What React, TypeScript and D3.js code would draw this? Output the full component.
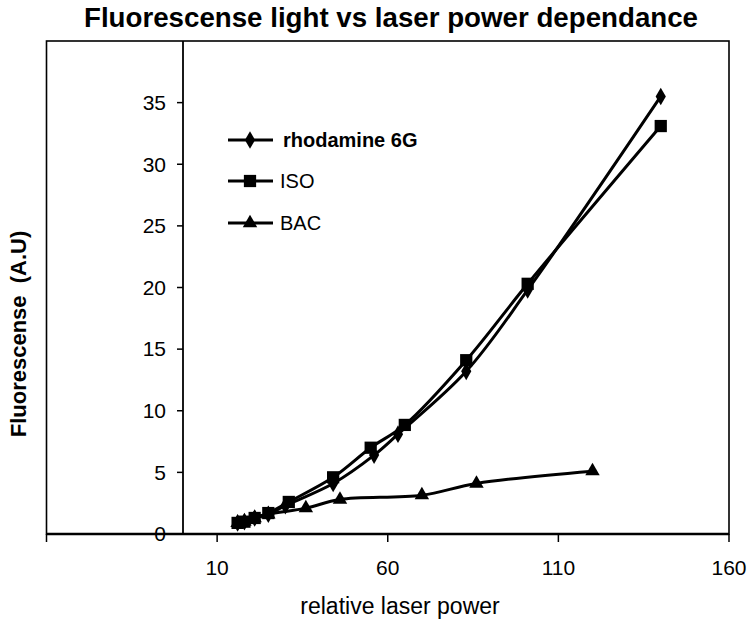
import React from "react";
import * as d3 from "d3";

const rhodX = [16, 18, 21, 25, 30, 44, 56, 63, 83, 101, 140];
const rhodY = [0.9, 1.0, 1.3, 1.6, 2.3, 4.1, 6.4, 8.1, 13.2, 19.8, 35.5];
const isoX = [16, 18, 21, 25, 31, 44, 55, 65, 83, 101, 140];
const isoY = [0.9, 1.0, 1.3, 1.7, 2.6, 4.6, 7.0, 8.85, 14.1, 20.3, 33.1];
const bacX = [16, 18, 21, 25, 36, 46, 70, 86, 120];
const bacY = [0.9, 1.0, 1.3, 1.6, 2.1, 2.8, 3.15, 4.1, 5.1];

const xTickValues = [-40, 10, 60, 110, 160];
const xTickLabels = ["", "10", "60", "110", "160"];
const yTickValues = [0, 5, 10, 15, 20, 25, 30, 35];

const titleText = "Fluorescense light vs laser power dependance";
const xTitle = "relative laser power";
const yTitle = "Fluorescense  (A.U)";

const seriesNames = ["rhodamine 6G", "ISO", "BAC"];

export default function App() {
  const x = d3.scaleLinear().domain([-40, 160]).range([46.5, 729]);
  const y = d3.scaleLinear().domain([0, 40]).range([534, 41]);

  const series = [
    { name: seriesNames[0], xs: rhodX, ys: rhodY, sym: d3.symbolDiamond, size: 90, bold: true },
    { name: seriesNames[1], xs: isoX, ys: isoY, sym: d3.symbolSquare, size: 150, bold: false },
    { name: seriesNames[2], xs: bacX, ys: bacY, sym: d3.symbolTriangle, size: 90, bold: false },
  ];

  const line = d3
    .line<[number, number]>()
    .x((d) => x(d[0]))
    .y((d) => y(d[1]))
    .curve(d3.curveCatmullRom.alpha(0.5));

  const font = "Liberation Sans, Arial, sans-serif";
  const legendY = [140, 181, 223];

  return (
    <svg
      width={750}
      height={624}
      style={{ position: "absolute", left: 0, top: 0, background: "#fff" }}
      fontFamily={font}
    >
      <rect x={0} y={0} width={750} height={624} fill="#fff" />
      {/* plot area border */}
      <rect x={x(-40)} y={y(40)} width={x(160) - x(-40)} height={y(0) - y(40)} fill="none" stroke="#000" strokeWidth={1.6} />
      {/* y axis at x=0 */}
      <line x1={x(0)} x2={x(0)} y1={y(40)} y2={y(0)} stroke="#000" strokeWidth={1.8} />
      {yTickValues.map((v) => (
        <g key={"yt" + v}>
          <line x1={x(0) - 6} x2={x(0)} y1={y(v)} y2={y(v)} stroke="#000" strokeWidth={1.5} />
          <text x={166} y={y(v)} dy="0.35em" textAnchor="end" fontSize={21} fill="#000">
            {v}
          </text>
        </g>
      ))}
      {/* x axis */}
      <line x1={x(-40)} x2={x(160)} y1={y(0)} y2={y(0)} stroke="#000" strokeWidth={2.5} />
      {xTickValues.map((v, i) => (
        <g key={"xt" + v}>
          <line x1={x(v)} x2={x(v)} y1={y(0)} y2={y(0) + 8} stroke="#000" strokeWidth={1.5} />
          <text x={x(v)} y={568} dy="0.35em" textAnchor="middle" fontSize={21} fill="#000">
            {xTickLabels[i]}
          </text>
        </g>
      ))}
      {/* series */}
      {series.map((s) => {
        const pts: [number, number][] = s.xs.map((xv, i) => [xv, s.ys[i]]);
        const sym = d3.symbol().type(s.sym).size(s.size)();
        return (
          <g key={s.name}>
            <path d={line(pts) || ""} fill="none" stroke="#000" strokeWidth={3} />
            {pts.map((p, i) => (
              <path key={i} d={sym || ""} transform={`translate(${x(p[0])},${y(p[1])})`} fill="#000" />
            ))}
          </g>
        );
      })}
      {/* legend */}
      {series.map((s, i) => {
        const sym = d3.symbol().type(s.sym).size(s.size)();
        return (
          <g key={"lg" + s.name}>
            <line x1={228} x2={273} y1={legendY[i]} y2={legendY[i]} stroke="#000" strokeWidth={3} />
            <path d={sym || ""} transform={`translate(250,${legendY[i]})`} fill="#000" />
            <text x={i === 0 ? 283 : 280} y={legendY[i]} dy="0.35em" fontSize={20} fontWeight={s.bold ? "bold" : "normal"} fill="#000">
              {s.name}
            </text>
          </g>
        );
      })}
      {/* titles */}
      <text x={391} y={27} textAnchor="middle" fontSize={27} fontWeight="bold" fill="#000" textLength={614} lengthAdjust="spacingAndGlyphs">
        {titleText}
      </text>
      <text x={400} y={606} dy="0.35em" textAnchor="middle" fontSize={23} fill="#000">
        {xTitle}
      </text>
      <text
        transform={`translate(18,334) rotate(-90)`}
        textAnchor="middle"
        dy="0.35em"
        fontSize={22}
        fontWeight="bold"
        fill="#000"
        style={{ whiteSpace: "pre" }}
      >
        {yTitle}
      </text>
    </svg>
  );
}
